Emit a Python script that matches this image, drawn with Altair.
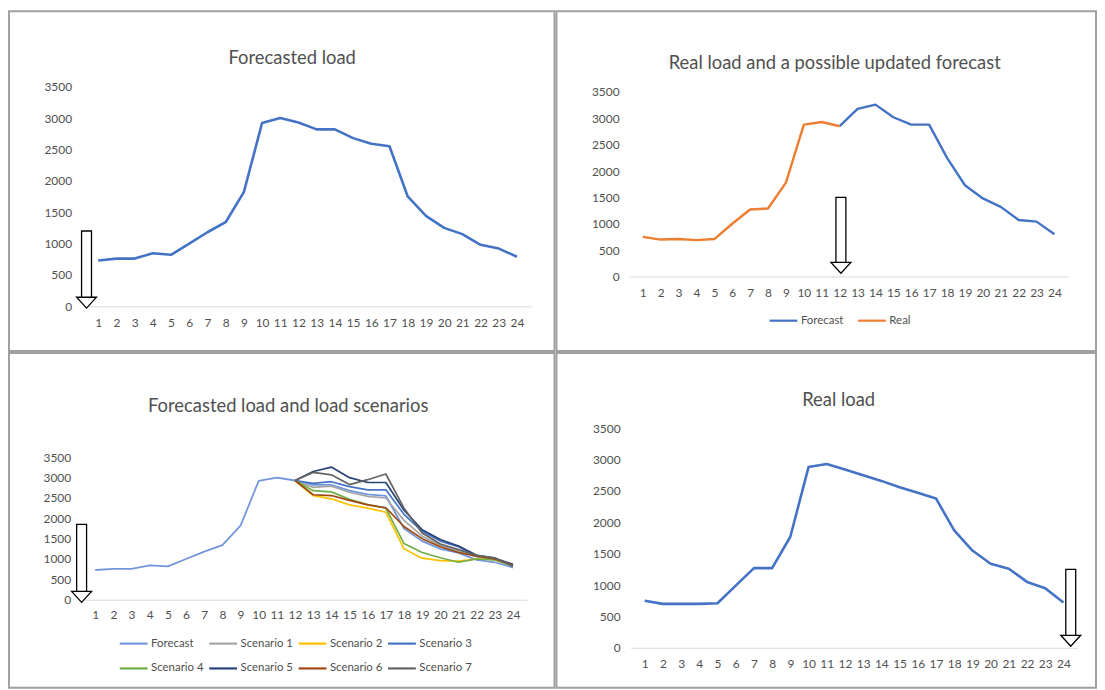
import altair as alt
import pandas as pd

FONT = "Lato"
TXT = "#505050"

hours = list(range(1, 25))
y_ticks = [0, 500, 1000, 1500, 2000, 2500, 3000, 3500]

# Panel 1: day-ahead forecast
forecast = [730, 760, 760, 845, 820, 1000, 1180, 1340, 1820, 2920, 3000, 2930,
            2820, 2820, 2680, 2590, 2550, 1750, 1440, 1250, 1150, 980, 920, 790]

# Panel 2: real load so far and updated forecast
real_hours = list(range(1, 13))
real_so_far = [750, 700, 710, 690, 710, 1000, 1270, 1290, 1780, 2880, 2930, 2850]
upd_hours = list(range(12, 25))
updated_forecast = [2850, 3180, 3260, 3020, 2880, 2880, 2250, 1730, 1480, 1320, 1070, 1040, 800]

# Panel 4: real load
real_load = [750, 700, 700, 700, 710, 990, 1270, 1270, 1770, 2880, 2930, 2840,
             2750, 2660, 2560, 2470, 2380, 1870, 1550, 1340, 1260, 1050, 950, 720]

# Panel 3: scenarios (hours 12..24)
scen_hours = list(range(12, 25))
scenario_1 = [2930, 2760, 2790, 2640, 2540, 2500, 1950, 1560, 1340, 1190, 1060, 980, 830]
scenario_2 = [2930, 2560, 2480, 2330, 2250, 2150, 1250, 1020, 960, 950, 1000, 990, 840]
scenario_3 = [2930, 2860, 2900, 2780, 2700, 2700, 2100, 1680, 1440, 1300, 1080, 1010, 850]
scenario_4 = [2930, 2680, 2650, 2470, 2340, 2250, 1380, 1160, 1030, 920, 1000, 980, 830]
scenario_5 = [2930, 3150, 3260, 3000, 2880, 2880, 2200, 1720, 1480, 1320, 1090, 1020, 870]
scenario_6 = [2930, 2580, 2560, 2440, 2330, 2260, 1800, 1500, 1300, 1160, 1070, 1000, 850]
scenario_7 = [2930, 3130, 3070, 2830, 2950, 3090, 2250, 1640, 1370, 1230, 1090, 1030, 820]
scenarios = [scenario_1, scenario_2, scenario_3, scenario_4, scenario_5, scenario_6, scenario_7]
scenario_names = ["Scenario %d" % i for i in range(1, 8)]
scenario_colors = ["#A5A5A5", "#FFC000", "#4472C4", "#70AD47", "#264478", "#9E480E", "#636363"]

titles = ["Forecasted load", "Real load and a possible updated forecast",
          "Forecasted load and load scenarios", "Real load"]

# arrow annotations (data units)
arrow_x = [0.36, 12.07, 0.25, 24.4]
arrow_top = [1200, 1500, 1850, 1250]
arrow_base = [110, 230, 155, 165]
arrow_tip = [-30, 60, -65, 25]


def axes(xoff, xpad, yoff):
    xa = alt.Axis(values=hours, title=None, grid=False, ticks=False, tickSize=0,
                  labelPadding=xpad, offset=xoff, domainColor="#D9D9D9", domainWidth=1,
                  labelColor=TXT, labelFontSize=12, labelFont=FONT, labelOverlap=False,
                  format="d")
    ya = alt.Axis(values=y_ticks, title=None, grid=False, domain=False, ticks=False,
                  tickSize=0, labelPadding=2, offset=yoff, labelColor=TXT,
                  labelFontSize=12, labelFont=FONT, labelOverlap=False, format="d")
    return xa, ya


def panel(line_specs, idx, w, h, xr, yr, xoff, xpad, yoff, tx, ty, cdom, crange, legend):
    xs = alt.Scale(domain=[0.5, 24.5], range=xr, nice=False, zero=False)
    ys = alt.Scale(domain=[0, 3500], range=yr, nice=False, zero=False)
    cs = alt.Scale(domain=cdom, range=crange)
    xa, ya = axes(xoff, xpad, yoff)
    layers = []
    for df, sw in line_specs:
        layers.append(
            alt.Chart(df).mark_line(strokeWidth=sw, strokeJoin="round").encode(
                x=alt.X("hour:Q", scale=xs, axis=xa),
                y=alt.Y("load:Q", scale=ys, axis=ya),
                color=alt.Color("series:N", scale=cs, legend=legend),
                detail="series:N",
            )
        )
    adf = pd.DataFrame({"hour": [arrow_x[idx]], "load": [arrow_top[idx]],
                        "base": [arrow_base[idx]], "tip": [arrow_tip[idx]]})
    shaft = alt.Chart(adf).mark_bar(size=10, fill="white", stroke="black",
                                    strokeWidth=1.3, opacity=1).encode(
        x=alt.X("hour:Q", scale=xs, axis=xa),
        y=alt.Y("load:Q", scale=ys, axis=ya),
        y2="base:Q",
    )
    head = alt.Chart(adf).mark_point(shape="M-1,-1.1L1,-1.1L0,0Z", size=400,
                                     fill="white", stroke="black", strokeWidth=1.3,
                                     opacity=1, fillOpacity=1).encode(
        x=alt.X("hour:Q", scale=xs, axis=xa),
        y=alt.Y("tip:Q", scale=ys, axis=ya),
    )
    title = alt.Chart(pd.DataFrame({"t": [titles[idx]]})).mark_text(
        fontSize=18.5, color="#505050", font=FONT, align="center", baseline="middle"
    ).encode(x=alt.value(tx), y=alt.value(ty), text="t:N")
    return alt.layer(*layers, shaft, head, title).properties(width=w, height=h)


def legend_def(x, y, cols=None):
    kw = dict(orient="none", legendX=x, legendY=y, direction="horizontal", title=None,
              symbolType="stroke", symbolStrokeWidth=2.2, symbolSize=784,
              labelFontSize=11.5, labelColor=TXT, labelFont=FONT, columnPadding=10,
              labelOffset=2, rowPadding=4)
    if cols:
        kw["columns"] = cols
        kw["columnPadding"] = 1
    return alt.Legend(**kw)


df1 = pd.DataFrame({"hour": hours, "load": forecast, "series": "Forecast"})
p1 = panel([(df1, 2.6)], 0, 549, 342, [75.6, 525.4], [297, 76], -45, 11, -65,
           285, 47, ["Forecast"], ["#4472C4"], None)

df2 = pd.concat([
    pd.DataFrame({"hour": upd_hours, "load": updated_forecast, "series": "Forecast"}),
    pd.DataFrame({"hour": real_hours, "load": real_so_far, "series": "Real"}),
])
p2 = panel([(df2, 2.4)], 1, 543, 342, [72.8, 515.2], [267, 81.3], -75, 11, -65,
           280, 52, ["Forecast", "Real"], ["#4472C4", "#ED7D31"], legend_def(213, 296))

df3f = pd.DataFrame({"hour": hours, "load": forecast, "series": "Forecast"})
df3s = pd.concat([
    pd.DataFrame({"hour": scen_hours, "load": s, "series": n})
    for s, n in zip(scenarios, scenario_names)
])
p3 = panel([(df3f, 1.8), (df3s, 1.7)], 2, 549, 337, [72.65, 521.35], [248.3, 105],
           -88.7, 10, -64, 281, 53, ["Forecast"] + scenario_names,
           ["#7396DA"] + scenario_colors, legend_def(110, 277, 4))

df4 = pd.DataFrame({"hour": hours, "load": real_load, "series": "Real"})
p4 = panel([(df4, 2.6)], 3, 543, 337, [74.6, 524.4], [296.7, 75.7], -40.3, 11, -66,
           284, 47, ["Real"], ["#4472C4"], None)

row1 = alt.hconcat(p1, p2, spacing=0).resolve_scale(
    x="independent", y="independent", color="independent").resolve_legend(color="independent")
row2 = alt.hconcat(p3, p4, spacing=0).resolve_scale(
    x="independent", y="independent", color="independent").resolve_legend(color="independent")

chart = alt.vconcat(row1, row2, spacing=0, padding=0).resolve_scale(
    x="independent", y="independent", color="independent"
).resolve_legend(color="independent").configure(
    font=FONT, background="white"
).configure_view(stroke="#A0A0A0", strokeWidth=2)

chart.save("out.html", embed_options={"renderer": "svg", "actions": False})
